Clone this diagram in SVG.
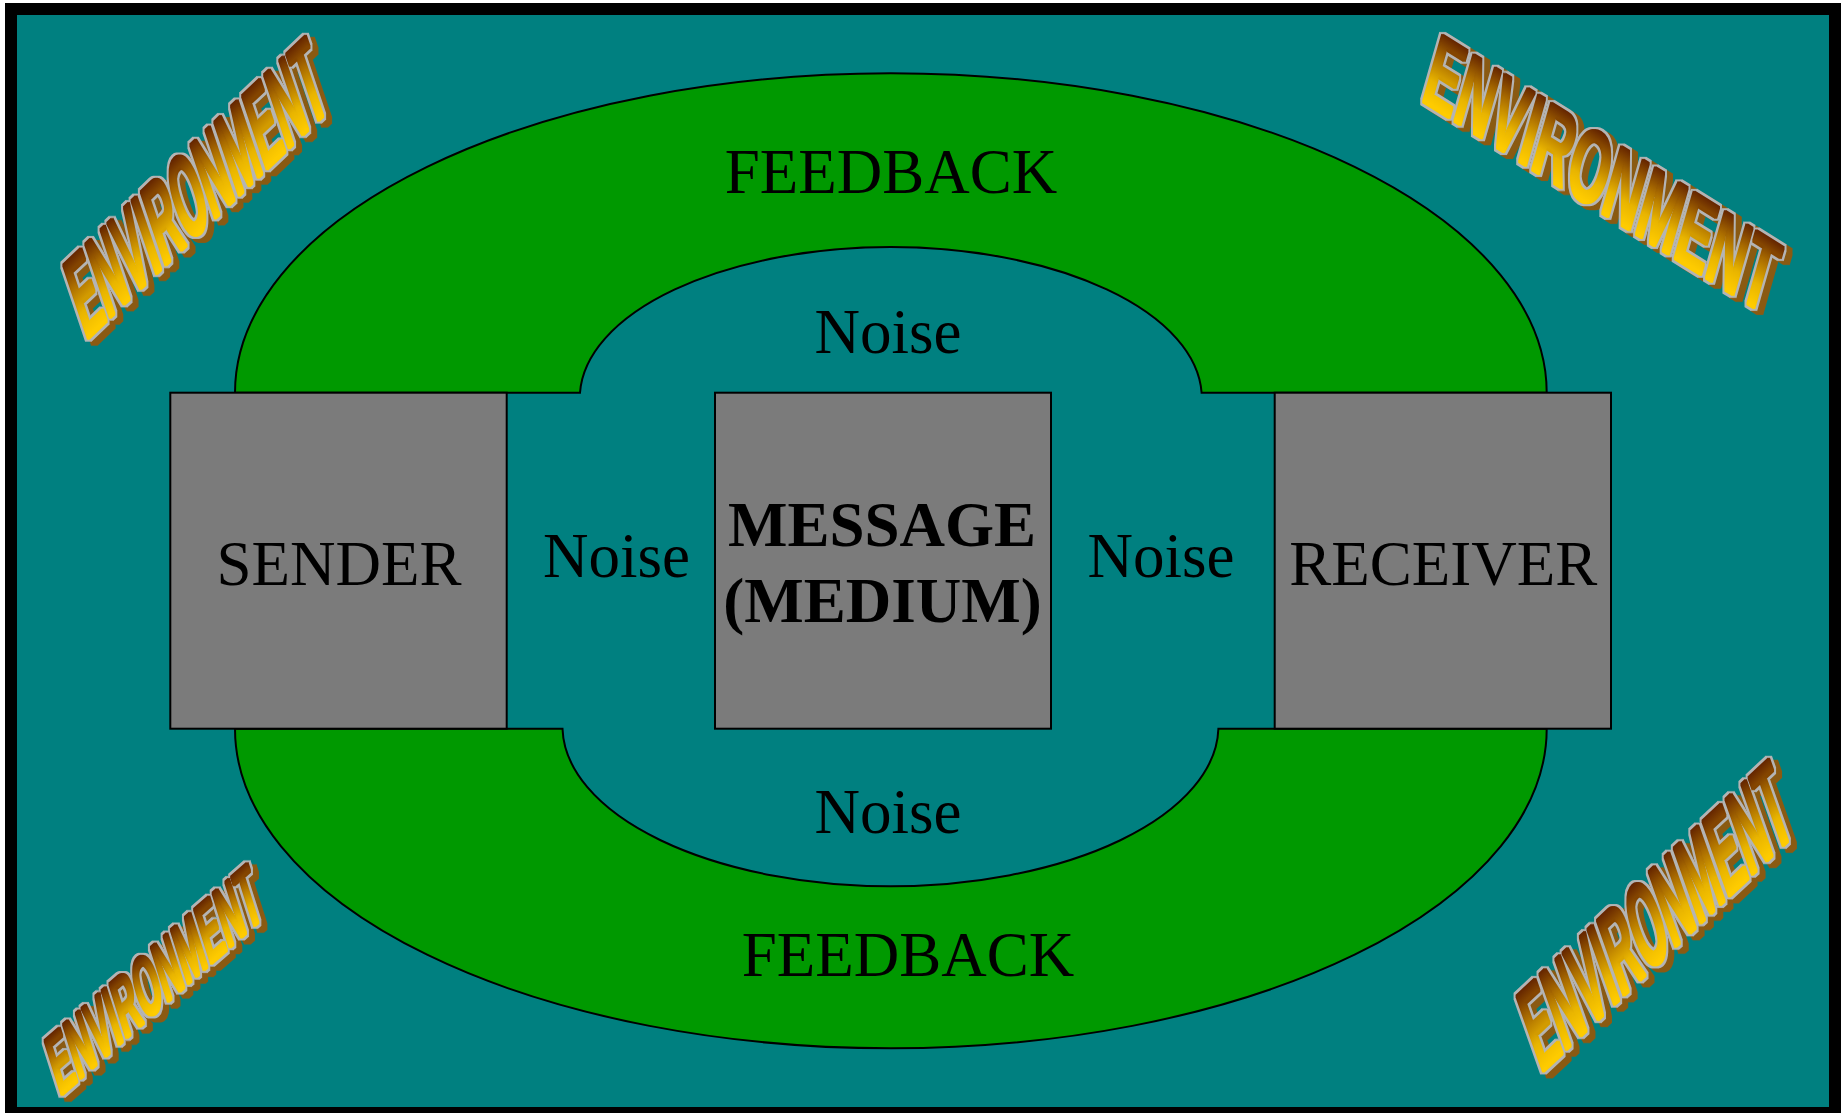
<svg xmlns="http://www.w3.org/2000/svg" width="1841" height="1113" viewBox="0 0 1841 1113">
  <style>
    .lbl { font-family: "Liberation Serif", "Times New Roman", serif; font-size: 63px; fill: #000; text-anchor: middle; }
    .bold { font-weight: bold; }
    .box { fill: #7b7b7b; stroke: #000; stroke-width: 2; }
    .ring { fill: #009900; stroke: #000; stroke-width: 2; }
    .env { font-family: "Liberation Sans", Arial, sans-serif; font-weight: bold; font-size: 100px; fill: url(#gold); stroke: none; }
  </style>
  <defs>
    <linearGradient id="gold" gradientUnits="userSpaceOnUse" x1="0" y1="-72" x2="0" y2="0">
      <stop offset="0" stop-color="#5a1a00"/>
      <stop offset="0.35" stop-color="#a86a00"/>
      <stop offset="0.7" stop-color="#e8b400"/>
      <stop offset="1" stop-color="#ffcc00"/>
    </linearGradient>
    <filter id="wordart" x="-8%" y="-8%" width="120%" height="120%" color-interpolation-filters="sRGB">
      <feMorphology in="SourceGraphic" operator="dilate" radius="1.3" result="fat"/>
      <feMorphology in="SourceAlpha" operator="dilate" radius="3.4" result="rimA"/>
      <feFlood flood-color="#b4b4b4" result="grey"/>
      <feComposite in="grey" in2="rimA" operator="in" result="rim"/>
      <feOffset in="rimA" dx="6" dy="4" result="shA"/>
      <feFlood flood-color="#8a5a12"/>
      <feComposite in2="shA" operator="in" result="sh"/>
      <feMerge>
        <feMergeNode in="sh"/>
        <feMergeNode in="rim"/>
        <feMergeNode in="fat"/>
      </feMerge>
    </filter>
  </defs>

  <rect x="0" y="0" width="1841" height="1113" fill="#ffffff"/>
  <rect id="frame" x="11" y="9" width="1824" height="1104" fill="#008080" stroke="#000" stroke-width="12"/>

  <g id="feedback-top">
    <path class="ring" d="M 235,392.7 A 655.85 319.4 0 0 1 1546.7,392.7 L 1201.6,392.7 A 311 151 0 0 0 580,392.7 Z"/>
    <text class="lbl" x="891" y="192.7">FEEDBACK</text>
  </g>
  <g id="feedback-bottom">
    <path class="ring" d="M 235,728.7 A 655.85 319.6 0 0 0 1546.7,728.7 L 1218.4,728.7 A 328 160.3 0 0 1 562.5,728.7 Z"/>
    <text class="lbl" x="908" y="976">FEEDBACK</text>
  </g>

  <g id="sender">
    <rect class="box" x="170.3" y="392.7" width="336.4" height="336"/>
    <text class="lbl" x="339" y="585">SENDER</text>
  </g>
  <g id="message">
    <rect class="box" x="715" y="392.7" width="336" height="336"/>
    <text class="lbl bold" x="882" y="545.7">MESSAGE</text>
    <text class="lbl bold" x="882.5" y="621.7">(MEDIUM)</text>
  </g>
  <g id="receiver">
    <rect class="box" x="1274.7" y="392.7" width="336.3" height="336"/>
    <text class="lbl" x="1443.3" y="585">RECEIVER</text>
  </g>

  <g id="noise-top"><text class="lbl" x="888" y="352.7">Noise</text></g>
  <g id="noise-left"><text class="lbl" x="616.5" y="576.7">Noise</text></g>
  <g id="noise-right"><text class="lbl" x="1161" y="576.7">Noise</text></g>
  <g id="noise-bottom"><text class="lbl" x="888" y="832.7">Noise</text></g>

  <g id="environment-top-left" filter="url(#wordart)">
    <text class="env" transform="matrix(0.3316 -0.3140 0.3631 1.0754 86 341)">ENVIRONMENT</text>
  </g>
  <g id="environment-top-right" filter="url(#wordart)">
    <text class="env" transform="matrix(0.4669 0.2910 -0.2793 0.9777 1420 100)">ENVIRONMENT</text>
  </g>
  <g id="environment-bottom-left" filter="url(#wordart)">
    <text class="env" transform="matrix(0.2774 -0.2436 0.2514 0.7961 60 1097)">ENVIRONMENT</text>
  </g>
  <g id="environment-bottom-right" filter="url(#wordart)">
    <text class="env" transform="matrix(0.3451 -0.3248 0.3911 1.1034 1541 1074)">ENVIRONMENT</text>
  </g>

  <g id="connectors"/>
</svg>
